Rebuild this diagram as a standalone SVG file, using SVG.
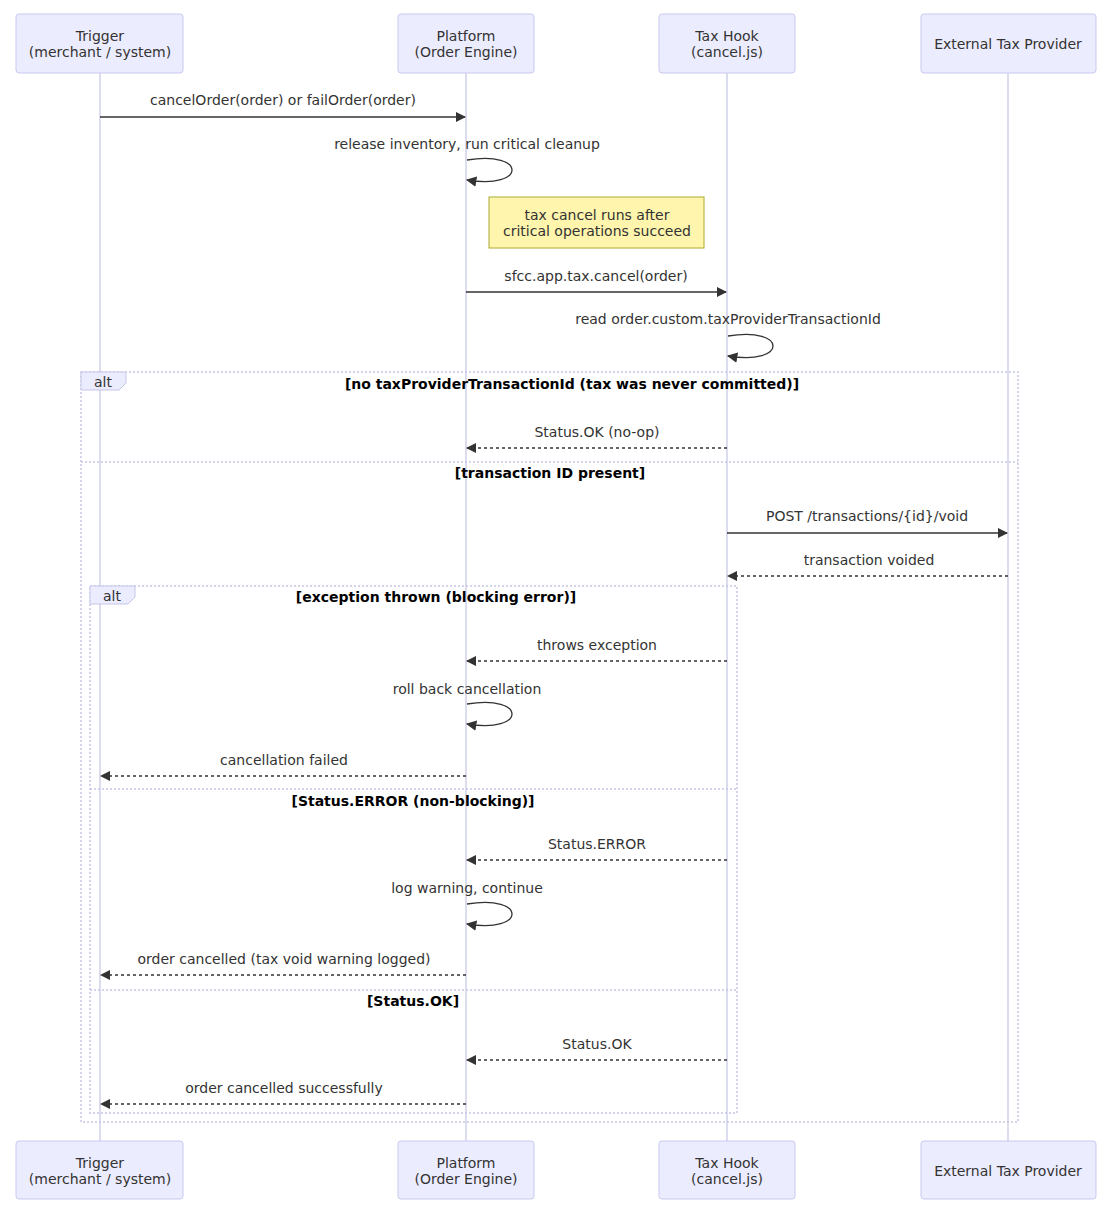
<svg xmlns="http://www.w3.org/2000/svg" width="1109" height="1215" viewBox="0 0 1109 1215">
<style>
text{font-family:"DejaVu Sans","Liberation Sans",sans-serif;font-size:14px;fill:#333;text-anchor:middle}
.actor rect{fill:#ececff;stroke:#c9c9f0;stroke-width:1}
.life{stroke:#d0d0ea;stroke-width:1.5}
.msg{stroke:#333;stroke-width:1.3;fill:none}
.dash{stroke-dasharray:3,3}
.frame{fill:none;stroke:#c6c6e6;stroke-width:1.5;stroke-dasharray:2,2}
.lab{fill:#ececff;stroke:#c6c6e6}
.cond{font-weight:bold;fill:#000}
</style>
<defs>
<marker id="ah" viewBox="0 0 10 10" refX="9" refY="5" markerWidth="8" markerHeight="8" orient="auto"><path d="M0,0L10,5L0,10z" fill="#333"/></marker>
</defs>
<g id="lifelines">
<line class="life" x1="100" y1="73" x2="100" y2="1141"/>
<line class="life" x1="466" y1="73" x2="466" y2="1141"/>
<line class="life" x1="727" y1="73" x2="727" y2="1141"/>
<line class="life" x1="1008" y1="73" x2="1008" y2="1141"/>
</g>
<g id="frames">
<rect class="frame" x="81" y="372" width="937" height="750"/>
<path class="lab" d="M81,372H126V383L119,390H81z"/>
<text x="103" y="387">alt</text>
<text class="cond" x="572" y="389">[no taxProviderTransactionId (tax was never committed)]</text>
<line class="frame" x1="81" y1="462" x2="1018" y2="462"/>
<text class="cond" x="550" y="478">[transaction ID present]</text>
<rect class="frame" x="90" y="586" width="647" height="527"/>
<path class="lab" d="M90,586H135V597L128,604H90z"/>
<text x="112" y="601">alt</text>
<text class="cond" x="436" y="602">[exception thrown (blocking error)]</text>
<line class="frame" x1="90" y1="789" x2="737" y2="789"/>
<text class="cond" x="413" y="806">[Status.ERROR (non-blocking)]</text>
<line class="frame" x1="90" y1="990" x2="737" y2="990"/>
<text class="cond" x="413" y="1006">[Status.OK]</text>
</g>
<g id="actor-trigger" class="actor"><rect x="16" y="14" width="167" height="59" rx="3"/><text x="100" y="41">Trigger</text><text x="100" y="57">(merchant / system)</text></g>
<g id="actor-platform" class="actor"><rect x="398" y="14" width="136" height="59" rx="3"/><text x="466" y="41">Platform</text><text x="466" y="57">(Order Engine)</text></g>
<g id="actor-taxhook" class="actor"><rect x="659" y="14" width="136" height="59" rx="3"/><text x="727" y="41">Tax Hook</text><text x="727" y="57">(cancel.js)</text></g>
<g id="actor-external" class="actor"><rect x="921" y="14" width="175" height="59" rx="3"/><text x="1008" y="49">External Tax Provider</text></g>
<g id="actor-trigger-b" class="actor"><rect x="16" y="1141" width="167" height="58" rx="3"/><text x="100" y="1168">Trigger</text><text x="100" y="1184">(merchant / system)</text></g>
<g id="actor-platform-b" class="actor"><rect x="398" y="1141" width="136" height="58" rx="3"/><text x="466" y="1168">Platform</text><text x="466" y="1184">(Order Engine)</text></g>
<g id="actor-taxhook-b" class="actor"><rect x="659" y="1141" width="136" height="58" rx="3"/><text x="727" y="1168">Tax Hook</text><text x="727" y="1184">(cancel.js)</text></g>
<g id="actor-external-b" class="actor"><rect x="921" y="1141" width="175" height="58" rx="3"/><text x="1008" y="1176">External Tax Provider</text></g>
<g id="note"><rect x="489" y="197" width="215" height="51" fill="#fff5ad" stroke="#aaaa33"/><text x="597" y="220">tax cancel runs after</text><text x="597" y="236">critical operations succeed</text></g>
<g id="connectors">
<line class="msg" x1="100" y1="117" x2="465" y2="117" marker-end="url(#ah)"/>
<text x="283" y="105">cancelOrder(order) or failOrder(order)</text>
<path class="msg" d="M467,160C527,150 527,190 467,180" marker-end="url(#ah)"/>
<text x="467" y="149">release inventory, run critical cleanup</text>
<line class="msg" x1="466" y1="292" x2="726" y2="292" marker-end="url(#ah)"/>
<text x="596" y="281">sfcc.app.tax.cancel(order)</text>
<path class="msg" d="M728,336C788,326 788,366 728,356" marker-end="url(#ah)"/>
<text x="728" y="324">read order.custom.taxProviderTransactionId</text>
<line class="msg dash" x1="727" y1="448" x2="467" y2="448" marker-end="url(#ah)"/>
<text x="597" y="437">Status.OK (no-op)</text>
<line class="msg" x1="727" y1="533" x2="1007" y2="533" marker-end="url(#ah)"/>
<text x="867" y="521">POST /transactions/{id}/void</text>
<line class="msg dash" x1="1008" y1="576" x2="728" y2="576" marker-end="url(#ah)"/>
<text x="869" y="565">transaction voided</text>
<line class="msg dash" x1="727" y1="661" x2="467" y2="661" marker-end="url(#ah)"/>
<text x="597" y="650">throws exception</text>
<path class="msg" d="M467,704C527,694 527,734 467,724" marker-end="url(#ah)"/>
<text x="467" y="694">roll back cancellation</text>
<line class="msg dash" x1="466" y1="776" x2="101" y2="776" marker-end="url(#ah)"/>
<text x="284" y="765">cancellation failed</text>
<line class="msg dash" x1="727" y1="860" x2="467" y2="860" marker-end="url(#ah)"/>
<text x="597" y="849">Status.ERROR</text>
<path class="msg" d="M467,904C527,894 527,934 467,924" marker-end="url(#ah)"/>
<text x="467" y="893">log warning, continue</text>
<line class="msg dash" x1="466" y1="975" x2="101" y2="975" marker-end="url(#ah)"/>
<text x="284" y="964">order cancelled (tax void warning logged)</text>
<line class="msg dash" x1="727" y1="1060" x2="467" y2="1060" marker-end="url(#ah)"/>
<text x="597" y="1049">Status.OK</text>
<line class="msg dash" x1="466" y1="1104" x2="101" y2="1104" marker-end="url(#ah)"/>
<text x="284" y="1093">order cancelled successfully</text>
</g>
</svg>
